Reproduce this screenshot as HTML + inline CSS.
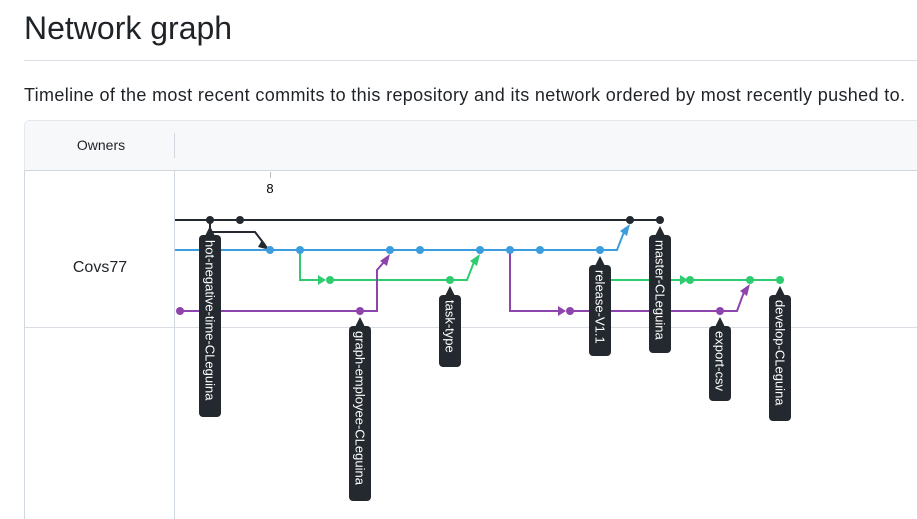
<!DOCTYPE html>
<html><head><style>body{margin:0;background:#fff}svg{display:block}</style></head><body>
<svg width="917" height="519" viewBox="0 0 917 519" xmlns="http://www.w3.org/2000/svg" font-family="Liberation Sans, sans-serif">
<text x="24" y="39" font-size="32" fill="#1f2328">Network graph</text>
<line x1="24" y1="60.5" x2="917" y2="60.5" stroke="#d8dee4"/>
<text x="24" y="101" font-size="18" fill="#1f2328" textLength="881">Timeline of the most recent commits to this repository and its network ordered by most recently pushed to.</text>
<rect x="24.5" y="120.5" width="920" height="420" rx="6" fill="#fff" stroke="#d0d7de"/>
<path d="M24.5 170.5 V126.5 a6 6 0 0 1 6 -6 H917 V170.5 Z" fill="#f6f8fa"/>
<line x1="24" y1="170.5" x2="917" y2="170.5" stroke="#d0d7de"/>
<line x1="174.5" y1="133" x2="174.5" y2="158" stroke="#d0d7de"/>
<text x="101" y="150" font-size="14" fill="#1f2328" text-anchor="middle">Owners</text>
<line x1="174.5" y1="171" x2="174.5" y2="519" stroke="#d0d7de"/>
<line x1="25" y1="327.5" x2="917" y2="327.5" stroke="#d8dee4"/>
<text x="100" y="272" font-size="16" fill="#1f2328" text-anchor="middle">Covs77</text>
<line x1="270.5" y1="172" x2="270.5" y2="178" stroke="#bbb"/>
<text x="270" y="193" font-size="13" fill="#000" text-anchor="middle">8</text>
<g fill="none" stroke-width="2">
<path d="M175 220 H660" stroke="#24292f"/>
<path d="M210 220 V232 H255 L265 245" stroke="#24292f"/>
<path d="M175 250 H617 L624 232" stroke="#3b9ddd"/>
<path d="M300 250 V280 H318 M330 280 H467 L474 262 M600 280 H680 M690 280 H780" stroke="#2ecc71"/>
<path d="M180 311 H377 V270 L384 262" stroke="#8e44ad"/>
<path d="M510 250 V311 H558 M570 311 H737 L744 292" stroke="#8e44ad"/>
</g>
<path d="M262 240 L270 250 L258 247Z" fill="#24292f"/>
<path d="M630 224 L627 236 L620 231Z" fill="#3b9ddd"/>
<path d="M318 275 L326 280 L318 285Z M680 275 L688 280 L680 285Z" fill="#2ecc71"/>
<path d="M480 254 L477 266 L470 261Z" fill="#2ecc71"/>
<path d="M390 254 L387 266 L380 261Z M750 284 L747 296 L740 291Z" fill="#8e44ad"/>
<path d="M558 306 L566 311 L558 316Z" fill="#8e44ad"/>
<g fill="#24292f"><circle cx="210" cy="220" r="4"/><circle cx="240" cy="220" r="4"/><circle cx="630" cy="220" r="4"/><circle cx="660" cy="220" r="4"/></g>
<g fill="#3b9ddd"><circle cx="270" cy="250" r="4"/><circle cx="300" cy="250" r="4"/><circle cx="390" cy="250" r="4"/><circle cx="420" cy="250" r="4"/><circle cx="480" cy="250" r="4"/><circle cx="510" cy="250" r="4"/><circle cx="540" cy="250" r="4"/><circle cx="600" cy="250" r="4"/></g>
<g fill="#2ecc71"><circle cx="330" cy="280" r="4"/><circle cx="450" cy="280" r="4"/><circle cx="690" cy="280" r="4"/><circle cx="750" cy="280" r="4"/><circle cx="780" cy="280" r="4"/></g>
<g fill="#8e44ad"><circle cx="180" cy="311" r="4"/><circle cx="360" cy="311" r="4"/><circle cx="570" cy="311" r="4"/><circle cx="720" cy="311" r="4"/></g>
<g fill="#24292f">
<path d="M210 226 l5 10 h-10z"/><rect x="199" y="235" width="22" height="182" rx="4"/>
<path d="M360 317 l5 10 h-10z"/><rect x="349" y="326" width="22" height="175" rx="4"/>
<path d="M450 286 l5 10 h-10z"/><rect x="439" y="295" width="22" height="72" rx="4"/>
<path d="M600 256 l5 10 h-10z"/><rect x="589" y="265" width="22" height="91" rx="4"/>
<path d="M660 226 l5 10 h-10z"/><rect x="649" y="235" width="22" height="118" rx="4"/>
<path d="M720 317 l5 10 h-10z"/><rect x="709" y="326" width="22" height="75" rx="4"/>
<path d="M780 286 l5 10 h-10z"/><rect x="769" y="295" width="22" height="126" rx="4"/>
</g>
<g fill="#fff" font-size="13">
<text transform="translate(205.5 240) rotate(90)">hot-negative-time-CLeguina</text>
<text transform="translate(355.5 331) rotate(90)">graph-employee-CLeguina</text>
<text transform="translate(445.5 300) rotate(90)">task-type</text>
<text transform="translate(595.5 270) rotate(90)">release-V1.1</text>
<text transform="translate(655.5 240) rotate(90)">master-CLeguina</text>
<text transform="translate(715.5 331) rotate(90)">export-csv</text>
<text transform="translate(775.5 300) rotate(90)">develop-CLeguina</text>
</g>
</svg>
</body></html>
